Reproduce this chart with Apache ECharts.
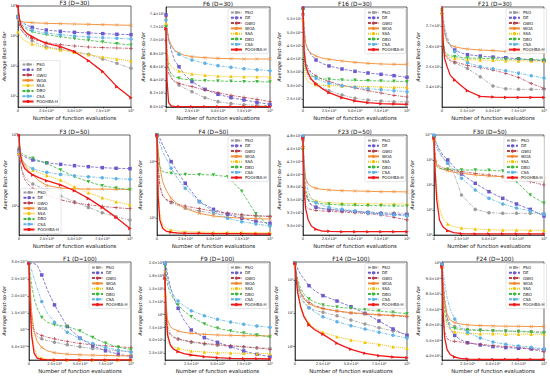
<!DOCTYPE html>
<html><head><meta charset="utf-8">
<script src="https://cdn.jsdelivr.net/npm/echarts@6/dist/echarts.min.js"></script>
<style>html,body{margin:0;padding:0;background:#fff}#c{width:550px;height:376px}</style>
</head><body><div id="c"></div>
<script>
// ---------- shared data ----------
const X = [0,1000,2500,5000,8000,12500,18000,25000,37500,50000,62500,75000,87500,100000];
const xTickValues = [0,25000,50000,75000,100000];
const xTickLabels = ['0','2.5×10⁴','5.0×10⁴','7.5×10⁴','10⁵'];
const algorithms = ['PSO','DE','GWO','WOA','SSA','DBO','CSA','POOHBA-H'];
const titles = ['F3 (D=30)','F6 (D=30)','F16 (D=30)','F21 (D=30)','F3 (D=50)','F4 (D=50)','F23 (D=50)','F30 (D=50)','F1 (D=100)','F9 (D=100)','F14 (D=100)','F24 (D=100)'];

// ---------- series values (order: PSO, DE, GWO, WOA, SSA, DBO, CSA, POOHBA-H) ----------
const F3_D30 = [
 [38800,26400,18000,12300,9030,6990,5410,4410,3690,3010,2450,1710,1230,835],
 [44100,35900,30800,26400,22700,19500,17100,15800,14300,13300,12600,12000,11400,11100],
 [44100,26400,16700,12300,10000,8150,6990,6000,5140,4640,4300,4080,3980,3880],
 [44100,34100,30800,29300,28600,27800,27100,26400,25800,25100,24500,23900,23300,22700],
 [13900,10800,9030,7360,6310,5410,4640,4080,3410,2860,2390,2000,1710,1470],
 [44100,32400,26400,20500,16700,13900,12300,11100,9500,8150,7180,6310,5550,5010],
 [44100,34100,27800,22700,19000,15800,13900,12600,11100,10000,9260,8800,8350,7940],
 [100000,44000,23000,16000,12000,9500,7400,5700,4400,3000,1500,650,205,87]
];
const F6_D30 = [
 [715.8,685.6,660.4,645.3,637.8,632.7,627.7,622.7,613.6,607.6,604.6,603.0,602.0,601.5],
 [738.5,720.9,700.7,685.6,670.5,660.4,647.9,637.8,626.2,618.7,613.6,610.1,606.6,603.5],
 [700.7,665.5,650.4,642.8,638.8,635.3,632.7,630.2,625.2,621.2,617.1,614.1,611.1,607.6],
 [733.5,715.8,703.2,693.2,685.6,680.6,677.6,675.5,674.0,673.0,672.5,672.0,672.0,672.0],
 [725.9,685.6,668.0,660.4,656.9,653.9,651.4,649.4,647.4,646.3,645.8,645.3,645.3,644.8],
 [720.9,675.5,657.9,649.4,645.3,642.8,641.3,640.3,639.3,638.8,638.3,637.8,637.8,637.3],
 [731.0,710.8,698.2,690.7,684.6,679.1,674.5,670.5,665.5,662.0,659.4,657.4,655.9,654.4],
 [718.3,640.0,606.0,601.0,600.3,600.1,600.0,600.0,600.0,600.0,600.0,600.0,600.0,600.0]
];
const F16_D30 = [
 [5662,4095,3594,3344,3193,3068,2943,2817,2654,2529,2466,2429,2404,2391],
 [5912,5223,4597,4346,4158,3970,3845,3745,3632,3544,3481,3431,3381,3319],
 [5724,4346,3907,3657,3494,3369,3256,3156,3018,2918,2817,2730,2642,2579],
 [5975,5098,4597,4346,4221,4120,4045,3995,3933,3882,3845,3820,3807,3807],
 [5474,3720,3319,3156,3093,3043,3018,3005,2993,2980,2967,2955,2943,2943],
 [5850,4095,3657,3469,3369,3306,3268,3243,3218,3206,3193,3181,3168,3156],
 [5975,4722,3970,3594,3406,3281,3181,3093,3005,2943,2893,2855,2817,2780],
 [6000,4346,3782,3469,3243,3068,2905,2742,2554,2429,2366,2329,2316,2304]
];
const F21_D30 = [
 [2764,2649,2583,2550,2534,2520,2507,2492,2451,2405,2392,2389,2389,2389],
 [2797,2747,2682,2632,2603,2583,2570,2560,2553,2548,2545,2540,2535,2530],
 [2780,2632,2566,2542,2530,2524,2517,2507,2496,2484,2468,2448,2418,2394],
 [2797,2731,2665,2624,2608,2599,2593,2588,2583,2580,2576,2575,2575,2573],
 [2764,2599,2566,2553,2547,2542,2538,2535,2534,2532,2530,2529,2529,2527],
 [2780,2616,2575,2561,2555,2550,2547,2543,2542,2540,2538,2537,2535,2534],
 [2797,2747,2698,2649,2608,2575,2547,2520,2501,2491,2481,2469,2456,2445],
 [2800,2632,2542,2501,2459,2435,2410,2382,2354,2351,2349,2349,2349,2349]
];
const F3_D50 = [
 [52200,42100,32100,25900,22700,20400,18700,16800,13800,11500,9570,8050,7080,6350],
 [61500,55200,52200,49500,46900,44500,42600,40700,38600,37000,35800,34700,34000,33600],
 [55200,44500,32100,23800,20400,17700,15900,14300,12200,11100,10400,9890,9480,9170],
 [58200,55200,46900,37800,32100,27400,22700,19500,17900,17500,17300,17300,17200,17200],
 [55200,49500,44500,39100,35100,32100,29400,27000,23200,18700,15400,13100,11500,10300],
 [64900,58200,55200,52200,49500,46900,43500,39900,32100,25900,22000,19300,17900,17000],
 [58200,49500,44500,39900,36600,33600,31500,29800,27900,26700,25900,25100,24300,23800],
 [100000,55200,42100,34000,30500,27400,25100,22700,19800,16400,12800,9570,6920,4840]
];
const F4_D50 = [
 [27600,8160,3870,2580,2110,1890,1690,1520,1350,1220,1160,1130,1110,1100],
 [29500,29500,25800,19700,15000,10000,6670,4150,1970,1440,1180,1000,885,816],
 [27600,9350,3620,2480,2160,1970,1790,1650,1480,1330,1240,1160,1110,1070],
 [29500,16100,8160,4440,3160,2250,1790,1500,1220,1100,1040,1010,986,973],
 [29500,4150,1220,762,667,622,597,582,574,566,566,566,558,558],
 [29500,14000,8160,6670,6400,6220,6050,5950,5900,5820,5430,3000,1200,713],
 [29500,25800,21100,15000,11500,7620,5080,3380,1970,1310,1000,873,794,733],
 [29500,2410,935,667,597,566,551,543,543,536,536,536,529,529]
];
const F23_D50 = [
 [4672,3960,3604,3474,3409,3370,3345,3325,3306,3286,3273,3260,3254,3247],
 [4737,4089,3701,3506,3409,3364,3338,3319,3299,3280,3260,3241,3228,3215],
 [4543,3636,3390,3338,3319,3306,3293,3286,3273,3260,3241,3215,3170,3118],
 [4672,4219,3927,3817,3766,3733,3714,3701,3688,3681,3675,3668,3668,3662],
 [4543,4025,3701,3584,3526,3493,3468,3455,3442,3435,3435,3429,3429,3429],
 [4478,3830,3604,3519,3481,3455,3435,3422,3409,3403,3396,3396,3390,3390],
 [4750,4284,3895,3668,3539,3455,3403,3364,3325,3293,3260,3234,3215,3196],
 [4705,3766,3345,3118,3001,2936,2904,2898,2891,2891,2891,2891,2891,2891]
];
const F30_D50 = [
 [8.58e9,4.64e9,2.93e9,1.85e9,1.17e9,7.36e8,2.93e8,3.98e7,1.06e7,7.82e6,7.36e6,7.36e6,7.36e6,7.36e6],
 [9.12e9,6.31e9,4.37e9,2.67e9,1.58e9,1.0e9,5.41e8,2.75e8,1.17e8,5.41e7,2.93e7,1.74e7,1.06e7,5.75e6],
 [6.31e9,1.36e9,7.36e8,5.75e8,4.93e8,4.24e8,3.74e8,3.41e8,2.93e8,2.51e8,2.15e8,1.79e8,1.36e8,1.0e8],
 [7.4e9,1.17e9,6.31e8,4.93e8,4.24e8,3.74e8,3.21e8,2.93e8,2.51e8,2.29e8,2.15e8,2.03e8,1.91e8,1.79e8],
 [6.31e9,5.41e8,6.31e7,1.17e7,4.64e6,2.75e6,2.15e6,1.91e6,1.74e6,1.63e6,1.58e6,1.58e6,1.54e6,1.54e6],
 [7.4e9,1.0e9,5.41e8,4.64e8,4.37e8,4.24e8,4.10e8,3.98e8,3.98e8,3.86e8,3.63e8,1.36e8,3.98e7,1.85e7],
 [1.0e10,6.31e9,3.98e9,2.15e9,1.28e9,7.36e8,3.98e8,1.85e8,6.31e7,2.93e7,1.74e7,1.20e7,9.12e6,6.71e6],
 [7.4e9,3.98e8,2.51e7,3.98e6,2.15e6,1.49e6,1.24e6,1.13e6,1.10e6,1.10e6,1.10e6,1.10e6,1.10e6,1.10e6]
];
const F1_D100 = [
 [2.965e11,2.028e11,1.24e11,8.94e10,7.96e10,7.27e10,6.77e10,6.28e10,5.49e10,4.90e10,4.41e10,4.01e10,3.72e10,3.52e10],
 [2.965e11,2.965e11,2.965e11,2.955e11,2.916e11,2.62e11,2.176e11,1.733e11,1.092e11,7.47e10,5.2e10,3.72e10,2.73e10,2.04e10],
 [2.965e11,2.127e11,1.24e11,9.63e10,8.85e10,8.25e10,7.76e10,7.27e10,6.48e10,5.89e10,5.49e10,5.2e10,4.90e10,4.70e10],
 [2.965e11,2.324e11,1.535e11,9.44e10,6.48e10,4.70e10,3.72e10,3.13e10,2.73e10,2.54e10,2.44e10,2.34e10,2.24e10,2.24e10],
 [2.965e11,2.028e11,9.93e10,4.51e10,2.34e10,1.55e10,1.25e10,1.15e10,1.06e10,1.06e10,1.06e10,1.06e10,1.06e10,1.06e10],
 [2.965e11,2.719e11,2.324e11,1.93e11,1.634e11,1.358e11,1.22e11,1.141e11,1.092e11,9.63e10,7.66e10,5.99e10,4.80e10,4.11e10],
 [2.965e11,2.916e11,2.768e11,2.521e11,2.226e11,1.831e11,1.486e11,1.22e11,9.24e10,7.27e10,5.89e10,4.70e10,3.92e10,3.32e10],
 [2.965e11,1.831e11,8.45e10,3.03e10,1.55e10,1.15e10,1.06e10,1.01e10,1.01e10,1.01e10,1.01e10,1.01e10,1.01e10,1.01e10]
];
const F9_D100 = [
 [17720,10600,7682,6386,5739,5285,4961,4637,4313,4054,3860,3731,3601,3472],
 [19990,19660,17720,15450,13510,11240,8977,7034,5544,4637,3795,2953,2306,1852],
 [17720,9949,7034,6062,5609,5285,5026,4767,4443,4184,3990,3795,3536,3277],
 [18370,11890,8977,7682,7228,6840,6581,6386,6192,6062,5998,5933,5933,5868],
 [13830,8005,5415,4249,3795,3472,3212,2953,2759,2630,2565,2500,2435,2435],
 [19660,17720,15780,14160,13190,11890,10730,9625,8200,7358,6840,6451,6062,5674],
 [19990,18690,16750,15130,13830,12670,11760,10790,9819,9107,8588,8135,7811,7552],
 [17070,9949,6062,4119,3342,2824,2435,2176,1852,1658,1528,1464,1464,1399]
];
const F14_D100 = [
 [3.16e8,1.12e8,5.62e7,2.95e7,2.0e7,1.48e7,1.23e7,1.07e7,8.51e6,6.31e6,4.79e6,3.72e6,2.95e6,2.34e6],
 [3.16e8,2.69e8,2.14e8,1.48e8,1.07e8,6.76e7,4.68e7,3.39e7,2.34e7,1.58e7,1.0e7,5.89e6,3.39e6,2.14e6],
 [3.16e8,1.58e8,7.94e7,4.47e7,2.95e7,2.14e7,1.70e7,1.41e7,1.17e7,1.02e7,9.55e6,8.91e6,8.51e6,7.94e6],
 [3.16e8,1.41e8,7.08e7,3.98e7,2.69e7,1.95e7,1.58e7,1.38e7,1.17e7,1.05e7,9.77e6,9.12e6,8.71e6,8.32e6],
 [2.82e8,1.12e8,4.47e7,1.78e7,8.91e6,5.01e6,3.55e6,2.69e6,2.0e6,1.58e6,1.35e6,1.17e6,1.0e6,8.91e5],
 [3.16e8,1.78e8,1.0e8,5.62e7,3.72e7,2.69e7,2.14e7,1.78e7,1.55e7,1.41e7,1.29e7,1.17e7,1.07e7,9.77e6],
 [3.16e8,1.58e8,7.94e7,3.72e7,2.24e7,1.48e7,1.07e7,7.94e6,5.62e6,4.27e6,3.39e6,2.69e6,2.19e6,1.82e6],
 [3.16e8,1.12e8,3.98e7,1.58e7,7.94e6,4.47e6,3.16e6,2.34e6,1.26e6,8.32e5,6.31e5,5.37e5,4.90e5,4.68e5]
];
const F24_D100 = [
 [9894,8622,7350,6502,6078,5908,5802,5738,5696,5654,5632,5611,5590,5569],
 [9936,9046,7774,6502,5760,5336,5060,4869,4721,4615,4551,4509,4466,4424],
 [9682,6926,5611,5124,4996,4954,4912,4848,4763,4678,4615,4572,4466,4276],
 [9936,8834,7562,6714,6332,6162,6078,6014,5972,5950,5929,5929,5908,5908],
 [9788,7986,6608,5972,5696,5569,5505,5463,5442,5442,5420,5420,5420,5399],
 [9851,8198,6926,6184,5908,5781,5717,5675,5654,5632,5611,5590,5548,5484],
 [9936,9470,8728,7774,7032,6396,5908,5548,5166,4912,4763,4657,4572,4466],
 [9788,6926,5230,4424,4106,3936,3852,3809,3788,3788,3788,3788,3788,3788]
];

// ---------- y tick values and labels ----------
const F3_D30_ticks = [100,1000,10000,100000];
const F3_D30_labels = ['10²','10³','10⁴','10⁵'];
const F6_D30_ticks = [600,620,640,660,680,700,720,740];
const F6_D30_labels = ['6.0×10²','6.2×10²','6.4×10²','6.6×10²','6.8×10²','7.0×10²','7.2×10²','7.4×10²'];
const F16_D30_ticks = [2500,3000,3500,4000,4500,5000,5500,6000];
const F16_D30_labels = ['2.5×10³','3.0×10³','3.5×10³','4.0×10³','4.5×10³','5.0×10³','5.5×10³','6.0×10³'];
const F21_D30_ticks = [2300,2400,2500,2600,2700,2800];
const F21_D30_labels = ['2.3×10³','2.4×10³','2.5×10³','2.6×10³','2.7×10³','2.8×10³'];
const F3_D50_ticks = [10000,100000];
const F3_D50_labels = ['10⁴','10⁵'];
const F4_D50_ticks = [1000,10000];
const F4_D50_labels = ['10³','10⁴'];
const F23_D50_ticks = [3000,3250,3500,3750,4000,4250,4500,4750];
const F23_D50_labels = ['3.0×10³','3.2×10³','3.5×10³','3.8×10³','4.0×10³','4.2×10³','4.5×10³','4.8×10³'];
const F30_D50_ticks = [1e6,1e7,1e8,1e9,1e10];
const F30_D50_labels = ['10⁶','10⁷','10⁸','10⁹','10¹⁰'];
const F1_D100_ticks = [5e10,1e11,1.5e11,2e11,2.5e11,3e11];
const F1_D100_labels = ['5.0×10¹⁰','10¹¹','1.5×10¹¹','2.0×10¹¹','2.5×10¹¹','3.0×10¹¹'];
const F9_D100_ticks = [2500,5000,7500,10000,12500,15000,17500,20000];
const F9_D100_labels = ['2.5×10³','5.0×10³','7.5×10³','10⁴','1.2×10⁴','1.5×10⁴','1.8×10⁴','2.0×10⁴'];
const F14_D100_ticks = [1e6,1e7,1e8];
const F14_D100_labels = ['10⁶','10⁷','10⁸'];
const F24_D100_ticks = [4000,5000,6000,7000,8000,9000,10000];
const F24_D100_labels = ['4.0×10³','5.0×10³','6.0×10³','7.0×10³','8.0×10³','9.0×10³','10⁴'];

// ---------- layout (positions, ranges, styles) ----------
const panelData = [
 [F3_D30,F3_D30_ticks,F3_D30_labels],[F6_D30,F6_D30_ticks,F6_D30_labels],
 [F16_D30,F16_D30_ticks,F16_D30_labels],[F21_D30,F21_D30_ticks,F21_D30_labels],
 [F3_D50,F3_D50_ticks,F3_D50_labels],[F4_D50,F4_D50_ticks,F4_D50_labels],
 [F23_D50,F23_D50_ticks,F23_D50_labels],[F30_D50,F30_D50_ticks,F30_D50_labels],
 [F1_D100,F1_D100_ticks,F1_D100_labels],[F9_D100,F9_D100_ticks,F9_D100_labels],
 [F14_D100,F14_D100_ticks,F14_D100_labels],[F24_D100,F24_D100_ticks,F24_D100_labels]
];
const layout = [
 {l:18, t:6,  w:113,h:101,type:'log',  min:43,    max:1e5,    gap:11, leg:'bl'},
 {l:166,t:7,  w:104,h:100,type:'value',min:599.5, max:750.6,  gap:21, leg:'tr'},
 {l:303,t:7,  w:104,h:100,type:'value',min:2203,  max:5962,   gap:22, leg:'tr'},
 {l:442,t:7,  w:106,h:100,type:'value',min:2302,  max:2795,   gap:22, leg:'tr'},
 {l:19, t:135,w:111,h:100,type:'log',  min:3910,  max:1e5,    gap:12, leg:'bl'},
 {l:157,t:135,w:113,h:100,type:'log',  min:508,   max:29500,  gap:15, leg:'tr'},
 {l:303,t:135,w:104,h:100,type:'value',min:2826,  max:4769,   gap:22, leg:'tr'},
 {l:434,t:135,w:112,h:100,type:'log',  min:1e6,   max:1e10,   gap:20, leg:'tr'},
 {l:29, t:262,w:102,h:98, type:'value',min:1.0e10,max:3.004e11,gap:23, leg:'tr'},
 {l:165,t:262,w:105,h:98, type:'value',min:1205,  max:20250,  gap:23, leg:'tr'},
 {l:295,t:262,w:112,h:98, type:'log',  min:3.98e5,max:3.47e8, gap:17, leg:'tr'},
 {l:442,t:262,w:106,h:98, type:'value',min:3750,  max:10080,  gap:22, leg:'tr'}
];
const PLUS = 'path://M4,0H6V4H10V6H6V10H4V6H0V4H4Z';
const XMARK = 'path://M1,0L5,4L9,0L10,1L6,5L10,9L9,10L5,6L1,10L0,9L4,5L0,1Z';
const TRI_DOWN = 'path://M0,0L10,0L5,9Z';
const TRI_RIGHT = 'path://M0,0L9,5L0,10Z';
const styles = [
 {c:'#9c9c9c', d:[3,1.2,1,1.2], s:'circle',   w:0.8},
 {c:'#6a5acd', d:[3,1.5],       s:'rect',     w:0.8},
 {c:'#b8404e', d:[3,1.2,1,1.2], s:PLUS,       w:0.8},
 {c:'#f28a30', d:'solid',       s:XMARK,      w:0.9},
 {c:'#f2c200', d:[1,1],         s:'triangle', w:1.0},
 {c:'#3db83d', d:[3,1.5],       s:TRI_DOWN,   w:0.8},
 {c:'#5fb2e6', d:[3,1.2,1,1.2], s:'circle',   w:0.8},
 {c:'#f01818', d:'solid',       s:TRI_RIGHT,  w:1.3}
];
const FONT = 'DejaVu Sans';

function lookup(ticks, labels){
  return function(v){
    for (let k=0;k<ticks.length;k++){ if (Math.abs(v-ticks[k]) <= Math.abs(ticks[k])*1e-6) return labels[k]; }
    return '';
  };
}

const grids=[], xAxes=[], yAxes=[], series=[], legends=[], graphics=[];
layout.forEach((p,i)=>{
  const [vals,ticks,labels] = panelData[i];
  grids.push({left:p.l, top:p.t, width:p.w, height:p.h, show:true, borderColor:'#000', borderWidth:0.6, backgroundColor:'transparent'});
  xAxes.push({type:'value', gridIndex:i, min:0, max:100000, interval:25000,
    axisLine:{show:true,onZero:false,lineStyle:{color:'#000',width:0.6}},
    axisTick:{show:true,length:1.5,lineStyle:{color:'#000',width:0.5}},
    axisLabel:{fontSize:3.6,margin:2,color:'#111',fontFamily:FONT,formatter:lookup(xTickValues,xTickLabels)},
    splitLine:{show:false},
    name:'Number of function evaluations', nameLocation:'middle', nameGap:8,
    nameTextStyle:{fontSize:5.3,color:'#111',fontFamily:FONT}});
  yAxes.push({type:p.type, logBase:10, gridIndex:i, min:p.min, max:p.max,
    axisLine:{show:true,onZero:false,lineStyle:{color:'#000',width:0.6}},
    axisTick:{show:true,length:1.5,lineStyle:{color:'#000',width:0.5},customValues:ticks},
    axisLabel:{fontSize:3.6,margin:1.5,color:'#111',fontFamily:FONT,customValues:ticks,formatter:lookup(ticks,labels)},
    splitLine:{show:false}, minorTick:{show:false},
    name:'Average Best-so-far', nameLocation:'middle', nameGap:p.gap,
    nameTextStyle:{fontSize:5,color:'#111',fontStyle:'italic',fontFamily:FONT}});
  vals.forEach((arr,k)=>{
    const st = styles[k];
    series.push({type:'line', name:algorithms[k], xAxisIndex:i, yAxisIndex:i,
      data: X.map((x,j)=>[x,arr[j]]),
      symbol: function(v){ return (v[0] % 12500 === 0) ? st.s : 'none'; },
      symbolSize: 3.5, showSymbol:true,
      itemStyle:{color:st.c},
      lineStyle:{color:st.c,width:st.w,type:st.d},
      z: k===7 ? 4 : 3, clip:true, animation:false});
  });
  const leg = {orient:'vertical', data:algorithms, itemWidth:11, itemHeight:4, itemGap:1.3,
    padding:[2,2,2,2], borderColor:'#cccccc', borderWidth:0.5, borderRadius:1.5,
    backgroundColor:'rgba(255,255,255,0.85)', selectedMode:false,
    textStyle:{fontSize:4,color:'#111',fontFamily:FONT,padding:[0,0,0,-2]}};
  if (p.leg==='tr'){ leg.right = 550-(p.l+p.w)+1.5; leg.top = p.t+1.5; }
  else { leg.left = p.l+1.5; leg.bottom = 376-(p.t+p.h)+1.5; }
  legends.push(leg);
  graphics.push({type:'text', x:p.l+p.w/2, y:p.t-3.5, style:{text:titles[i], font:'normal 5.8px "DejaVu Sans"', fill:'#111', textAlign:'center', textVerticalAlign:'middle'}});
});

const chart = echarts.init(document.getElementById('c'), null, {renderer:'svg', width:550, height:376});
chart.setOption({animation:false, backgroundColor:'#fff', grid:grids, xAxis:xAxes, yAxis:yAxes, series:series, legend:legends, graphic:graphics});
</script></body></html>
